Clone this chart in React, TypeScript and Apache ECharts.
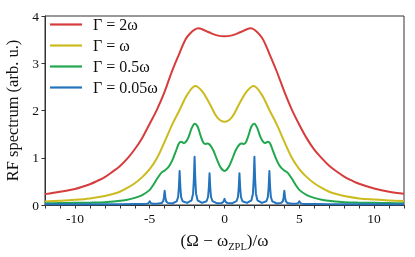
import React, { useEffect, useRef } from "react";
import * as echarts from "echarts";

const xRed = [-12, -11, -10, -9, -8.5, -8, -7.5, -7, -6.5, -6, -5.5, -5, -4.5, -4, -3.5, -3, -2.6, -2.3, -2, -1.75, -1.5, -1, -0.5, 0, 0.5, 1, 1.5, 1.75, 2, 2.3, 2.6, 3, 3.5, 4, 4.5, 5, 5.5, 6, 6.5, 7, 7.5, 8, 8.5, 9, 10, 11, 12];
const yRed = [0.23, 0.28, 0.34, 0.44, 0.51, 0.59, 0.7, 0.82, 0.98, 1.18, 1.42, 1.72, 2.03, 2.4, 2.84, 3.22, 3.51, 3.63, 3.71, 3.74, 3.72, 3.65, 3.59, 3.57, 3.59, 3.65, 3.72, 3.74, 3.71, 3.62, 3.49, 3.2, 2.82, 2.4, 2.02, 1.7, 1.41, 1.17, 0.99, 0.83, 0.71, 0.6, 0.52, 0.45, 0.35, 0.28, 0.24];

const xYellow = [-12, -11, -10, -9, -8, -7.5, -7, -6.5, -6, -5.5, -5, -4.5, -4, -3.5, -3, -2.5, -1.95, -1.5, -1, -0.5, 0, 0.5, 1, 1.5, 1.95, 2.5, 3, 3.5, 4, 4.5, 5, 5.5, 6, 6.5, 7, 7.5, 8, 9, 10, 11, 12];
const yYellow = [0.075, 0.09, 0.11, 0.14, 0.19, 0.23, 0.28, 0.36, 0.46, 0.59, 0.76, 1.0, 1.34, 1.7, 2.01, 2.33, 2.52, 2.41, 2.15, 1.86, 1.76, 1.86, 2.15, 2.41, 2.52, 2.33, 2.01, 1.7, 1.34, 1.0, 0.76, 0.59, 0.46, 0.36, 0.28, 0.23, 0.19, 0.14, 0.115, 0.095, 0.085];

const xGreen = [-12, -11, -10, -9, -8, -7, -6.5, -6, -5.5, -5, -4.75, -4.5, -4.2, -4, -3.75, -3.5, -3.25, -3.05, -2.9, -2.7, -2.55, -2.4, -2.2, -2, -1.8, -1.6, -1.45, -1.3, -1.15, -1, -0.75, -0.5, -0.25, 0, 0.25, 0.5, 0.75, 1, 1.15, 1.3, 1.45, 1.6, 1.8, 2, 2.2, 2.4, 2.55, 2.7, 2.9, 3.05, 3.25, 3.5, 3.75, 4, 4.2, 4.5, 4.75, 5, 5.5, 6, 6.5, 7, 8, 9, 10, 11, 12];
const yGreen = [0.035, 0.04, 0.045, 0.05, 0.06, 0.09, 0.11, 0.15, 0.21, 0.32, 0.43, 0.56, 0.69, 0.73, 0.8, 0.94, 1.14, 1.3, 1.34, 1.31, 1.35, 1.44, 1.62, 1.72, 1.66, 1.47, 1.34, 1.29, 1.3, 1.28, 1.16, 0.96, 0.79, 0.72, 0.79, 0.96, 1.16, 1.28, 1.3, 1.29, 1.34, 1.47, 1.66, 1.72, 1.62, 1.44, 1.35, 1.31, 1.34, 1.3, 1.14, 0.94, 0.8, 0.73, 0.69, 0.56, 0.43, 0.32, 0.21, 0.15, 0.11, 0.09, 0.06, 0.05, 0.045, 0.04, 0.035];

const xBlue = [-12, -9, -7, -6, -5.5, -5.2, -5.1, -5.05, -5, -4.95, -4.9, -4.8, -4.5, -4.2, -4.1, -4.05, -4, -3.95, -3.9, -3.8, -3.5, -3.2, -3.1, -3.05, -3, -2.95, -2.9, -2.8, -2.5, -2.2, -2.1, -2.05, -2, -1.95, -1.9, -1.8, -1.5, -1.2, -1.1, -1.05, -1, -0.95, -0.9, -0.8, -0.5, -0.2, -0.1, -0.05, 0, 0.05, 0.1, 0.2, 0.5, 0.8, 0.9, 0.95, 1, 1.05, 1.1, 1.2, 1.5, 1.8, 1.9, 1.95, 2, 2.05, 2.1, 2.2, 2.5, 2.8, 2.9, 2.95, 3, 3.05, 3.1, 3.2, 3.5, 3.8, 3.9, 3.95, 4, 4.05, 4.1, 4.2, 4.5, 4.8, 4.9, 4.95, 5, 5.05, 5.1, 5.2, 5.5, 6, 7, 9, 12];
const yBlue = [0.015, 0.015, 0.018, 0.02, 0.022, 0.026, 0.035, 0.05, 0.08, 0.05, 0.035, 0.028, 0.025, 0.04, 0.08, 0.16, 0.3, 0.16, 0.08, 0.045, 0.032, 0.075, 0.17, 0.37, 0.72, 0.37, 0.17, 0.08, 0.045, 0.1, 0.24, 0.52, 1.02, 0.52, 0.24, 0.1, 0.045, 0.08, 0.17, 0.35, 0.67, 0.35, 0.17, 0.08, 0.035, 0.04, 0.06, 0.085, 0.13, 0.085, 0.06, 0.04, 0.035, 0.08, 0.17, 0.35, 0.67, 0.35, 0.17, 0.08, 0.045, 0.1, 0.24, 0.52, 1.02, 0.52, 0.24, 0.1, 0.045, 0.08, 0.17, 0.37, 0.72, 0.37, 0.17, 0.075, 0.032, 0.045, 0.08, 0.16, 0.3, 0.16, 0.08, 0.04, 0.025, 0.028, 0.035, 0.05, 0.08, 0.05, 0.035, 0.026, 0.022, 0.02, 0.018, 0.015, 0.015];

const seriesNames = ["Γ = 2ω", "Γ = ω", "Γ = 0.5ω", "Γ = 0.05ω"];
const seriesColors = ["#d63c3c", "#cbbb1e", "#21a84e", "#2474bd"];
const yTicks = [0, 1, 2, 3, 4];

const FONT = "Liberation Serif";

function pairs(xs: number[], ys: number[]) {
  return xs.map((x, i) => [x, ys[i]]);
}

export default function App() {
  const ref = useRef<HTMLDivElement>(null);
  useEffect(() => {
    if (!ref.current) return;
    const chart = echarts.init(ref.current, undefined, { renderer: "svg" });
    const datasets = [pairs(xRed, yRed), pairs(xYellow, yYellow), pairs(xGreen, yGreen), pairs(xBlue, yBlue)];
    const smooths = [0.35, 0.35, 0.3, false];
    chart.setOption({
      animation: false,
      grid: {
        left: 45,
        right: 11,
        top: 16,
        bottom: 52,
        show: true,
        borderColor: "#333",
        borderWidth: 1,
        backgroundColor: "transparent",
        containLabel: false,
        outerBoundsMode: "none",
      },
      legend: {
        orient: "vertical",
        left: 50,
        top: 15.5,
        padding: 0,
        icon: "rect",
        itemWidth: 32,
        itemHeight: 2.2,
        itemGap: 3,
        data: seriesNames,
        textStyle: { fontFamily: FONT, fontSize: 16, lineHeight: 18, color: "#111", padding: [0, 0, 0, 6] },
      },
      xAxis: {
        type: "value",
        min: -12,
        max: 12,
        interval: 1,
        axisLine: { show: true, onZero: false, lineStyle: { color: "#333", width: 1 } },
        axisTick: { show: true, inside: false, length: 3.5, lineStyle: { color: "#333" } },
        axisLabel: {
          show: true,
          margin: 6,
          fontFamily: FONT,
          fontSize: 13.5,
          color: "#111",
          formatter: (v: number) => (v % 5 === 0 && Math.abs(v) < 12 ? String(v) : ""),
        },
        splitLine: { show: false },
        name: "(Ω − ω{s|ZPL})/ω",
        nameLocation: "middle",
        nameGap: 22,
        nameTextStyle: {
          fontFamily: FONT,
          fontSize: 17,
          color: "#111",
          lineHeight: 22,
          rich: { s: { fontFamily: FONT, fontSize: 10.5, lineHeight: 10, verticalAlign: "bottom", color: "#111" } },
        },
      },
      yAxis: {
        type: "value",
        min: 0,
        max: 4,
        interval: 1,
        axisLine: { show: true, onZero: false, lineStyle: { color: "#333", width: 1 } },
        axisTick: { show: true, inside: false, length: 3.5, lineStyle: { color: "#333" } },
        axisLabel: {
          margin: 6,
          fontFamily: FONT,
          fontSize: 13.5,
          color: "#111",
          formatter: (v: number) => (yTicks.includes(v) ? String(v) : ""),
        },
        splitLine: { show: false },
        name: "RF spectrum (arb. u.)",
        nameLocation: "middle",
        nameGap: 21,
        nameTextStyle: { fontFamily: FONT, fontSize: 16.5, color: "#111" },
      },
      series: datasets.map((d, i) => ({
        name: seriesNames[i],
        type: "line",
        data: d,
        showSymbol: false,
        symbol: "none",
        smooth: smooths[i],
        color: seriesColors[i],
        lineStyle: { color: seriesColors[i], width: 2, join: "round" },
        z: 2 + i,
      })),
    });
    return () => chart.dispose();
  }, []);
  return <div ref={ref} style={{ position: "fixed", left: 0, top: 0, width: 415, height: 257 }} />;
}
